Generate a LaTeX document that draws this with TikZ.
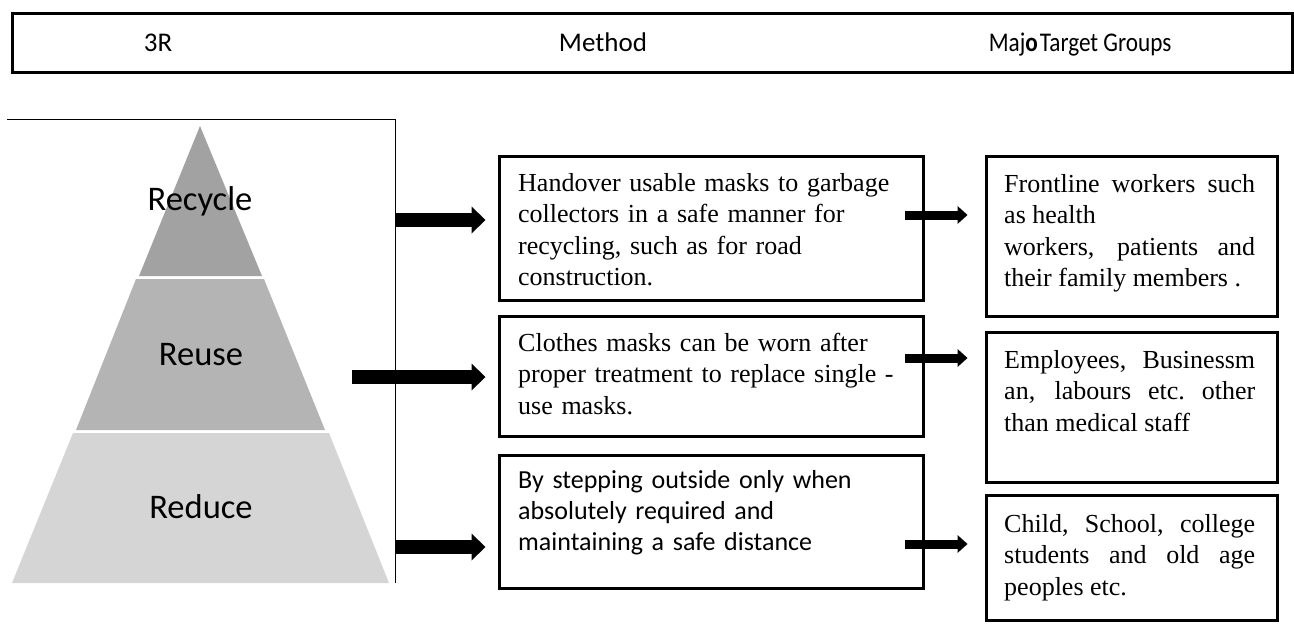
\documentclass[tikz,border=0pt]{standalone}
\usepackage{fontspec}
\setmainfont{Liberation Serif}
\newfontfamily\calibri{Carlito}
\newfontfamily\calibrinarrow[FakeStretch=0.86]{Carlito}
\definecolor{pyrtop}{RGB}{162,162,162}
\definecolor{pyrmid}{RGB}{180,180,180}
\definecolor{pyrbase}{RGB}{213,213,213}
\usetikzlibrary{arrows.meta,positioning,fit}

\begin{document}
\begin{tikzpicture}[x=1pt, y=-1pt,
  framebox/.style={draw, line width=3pt, inner sep=0pt},
  boxtext/.style={anchor=base west, inner sep=0pt, align=left, text width=390pt,
    font=\fontsize{26}{31.5}\selectfont},
  grouptext/.style={boxtext, text width=251pt, align=justify},
  headtext/.style={anchor=base, font=\calibri\fontsize{27}{32}\selectfont},
  layertext/.style={anchor=base, font=\calibri\fontsize{34.5}{40}\selectfont},
  bigarrow/.style={line width=14pt, -{Triangle[length=14pt, width=27pt, line width=0pt]}},
  smallarrow/.style={line width=9pt, -{Triangle[length=10pt, width=18pt, line width=0pt]}}]

\useasboundingbox (0,0) rectangle (1294,624);

% header row
\node[framebox, fit={(12,13) (1292,72)}] (head) {};
\node[headtext] (h3r) at (158,51) {3R};
\node[headtext] (hmethod) at (603,51) {Method};
\node[headtext, anchor=base east, font=\calibrinarrow\fontsize{27}{32}\selectfont]
  (hgroups) at (1175,51) {Maj\textbf{o}\kern2pt Target Groups};

% pyramid
\fill[pyrtop] (200,126) -- (262,276) -- (139,276) -- cycle;
\fill[pyrmid] (136,279) -- (264,279) -- (325,430) -- (76,430) -- cycle;
\fill[pyrbase] (73,433) -- (329,433) -- (389,583) -- (12,583) -- cycle;
\draw[line width=1pt] (7,119) -- (395,119) -- (395,583);

\node[layertext] (recycle) at (200,210) {Recycle};
\node[layertext] (reuse) at (201,365) {Reuse};
\node[layertext] (reduce) at (201,518) {Reduce};

% method boxes
\node[framebox, fit={(499,156) (923,300)}] (m1) {};
\node[framebox, fit={(499,316) (923,436)}] (m2) {};
\node[framebox, fit={(499,455) (923,588)}] (m3) {};

\node[boxtext] (m1text) at (518,191) {Handover usable masks to garbage\\collectors in a safe manner for\\recycling, such as for road\\construction.};
\node[boxtext] (m2text) at (518,351) {Clothes masks can be worn after\\proper treatment to replace single -\\use masks.};
\node[boxtext, font=\calibri\fontsize{26}{31}\selectfont] (m3text) at (518,488) {By stepping outside only when\\absolutely required and\\maintaining a safe distance};

% target group boxes
\node[framebox, fit={(986,156) (1277,316)}] (t1) {};
\node[framebox, fit={(986,332) (1277,482)}] (t2) {};
\node[framebox, fit={(986,495) (1277,620)}] (t3) {};

\node[grouptext] (t1text) at (1004,192) {Frontline workers such\linebreak as health\newline workers, patients and\linebreak their family members .};
\node[grouptext] (t2text) at (1004,368) {Employees, Businessm\linebreak an, labours etc.\ other\linebreak than medical staff};
\node[grouptext] (t3text) at (1004,532) {Child, School, college\linebreak students and old age\linebreak peoples etc.};

% arrows
\coordinate (a1) at (395,220);
\coordinate (a2) at (352,377);
\coordinate (a3) at (395,547);
\draw[bigarrow, shorten >=12pt] (a1) -- (a1 -| m1.west);
\draw[bigarrow, shorten >=12pt] (a2) -- (a2 -| m2.west);
\draw[bigarrow, shorten >=12pt] (a3) -- (a3 -| m3.west);

\coordinate (b1) at (905,215);
\coordinate (b2) at (905,358);
\coordinate (b3) at (905,544);
\draw[smallarrow, shorten >=17pt] (b1) -- (b1 -| t1.west);
\draw[smallarrow, shorten >=17pt] (b2) -- (b2 -| t2.west);
\draw[smallarrow, shorten >=17pt] (b3) -- (b3 -| t3.west);

\end{tikzpicture}
\end{document}
